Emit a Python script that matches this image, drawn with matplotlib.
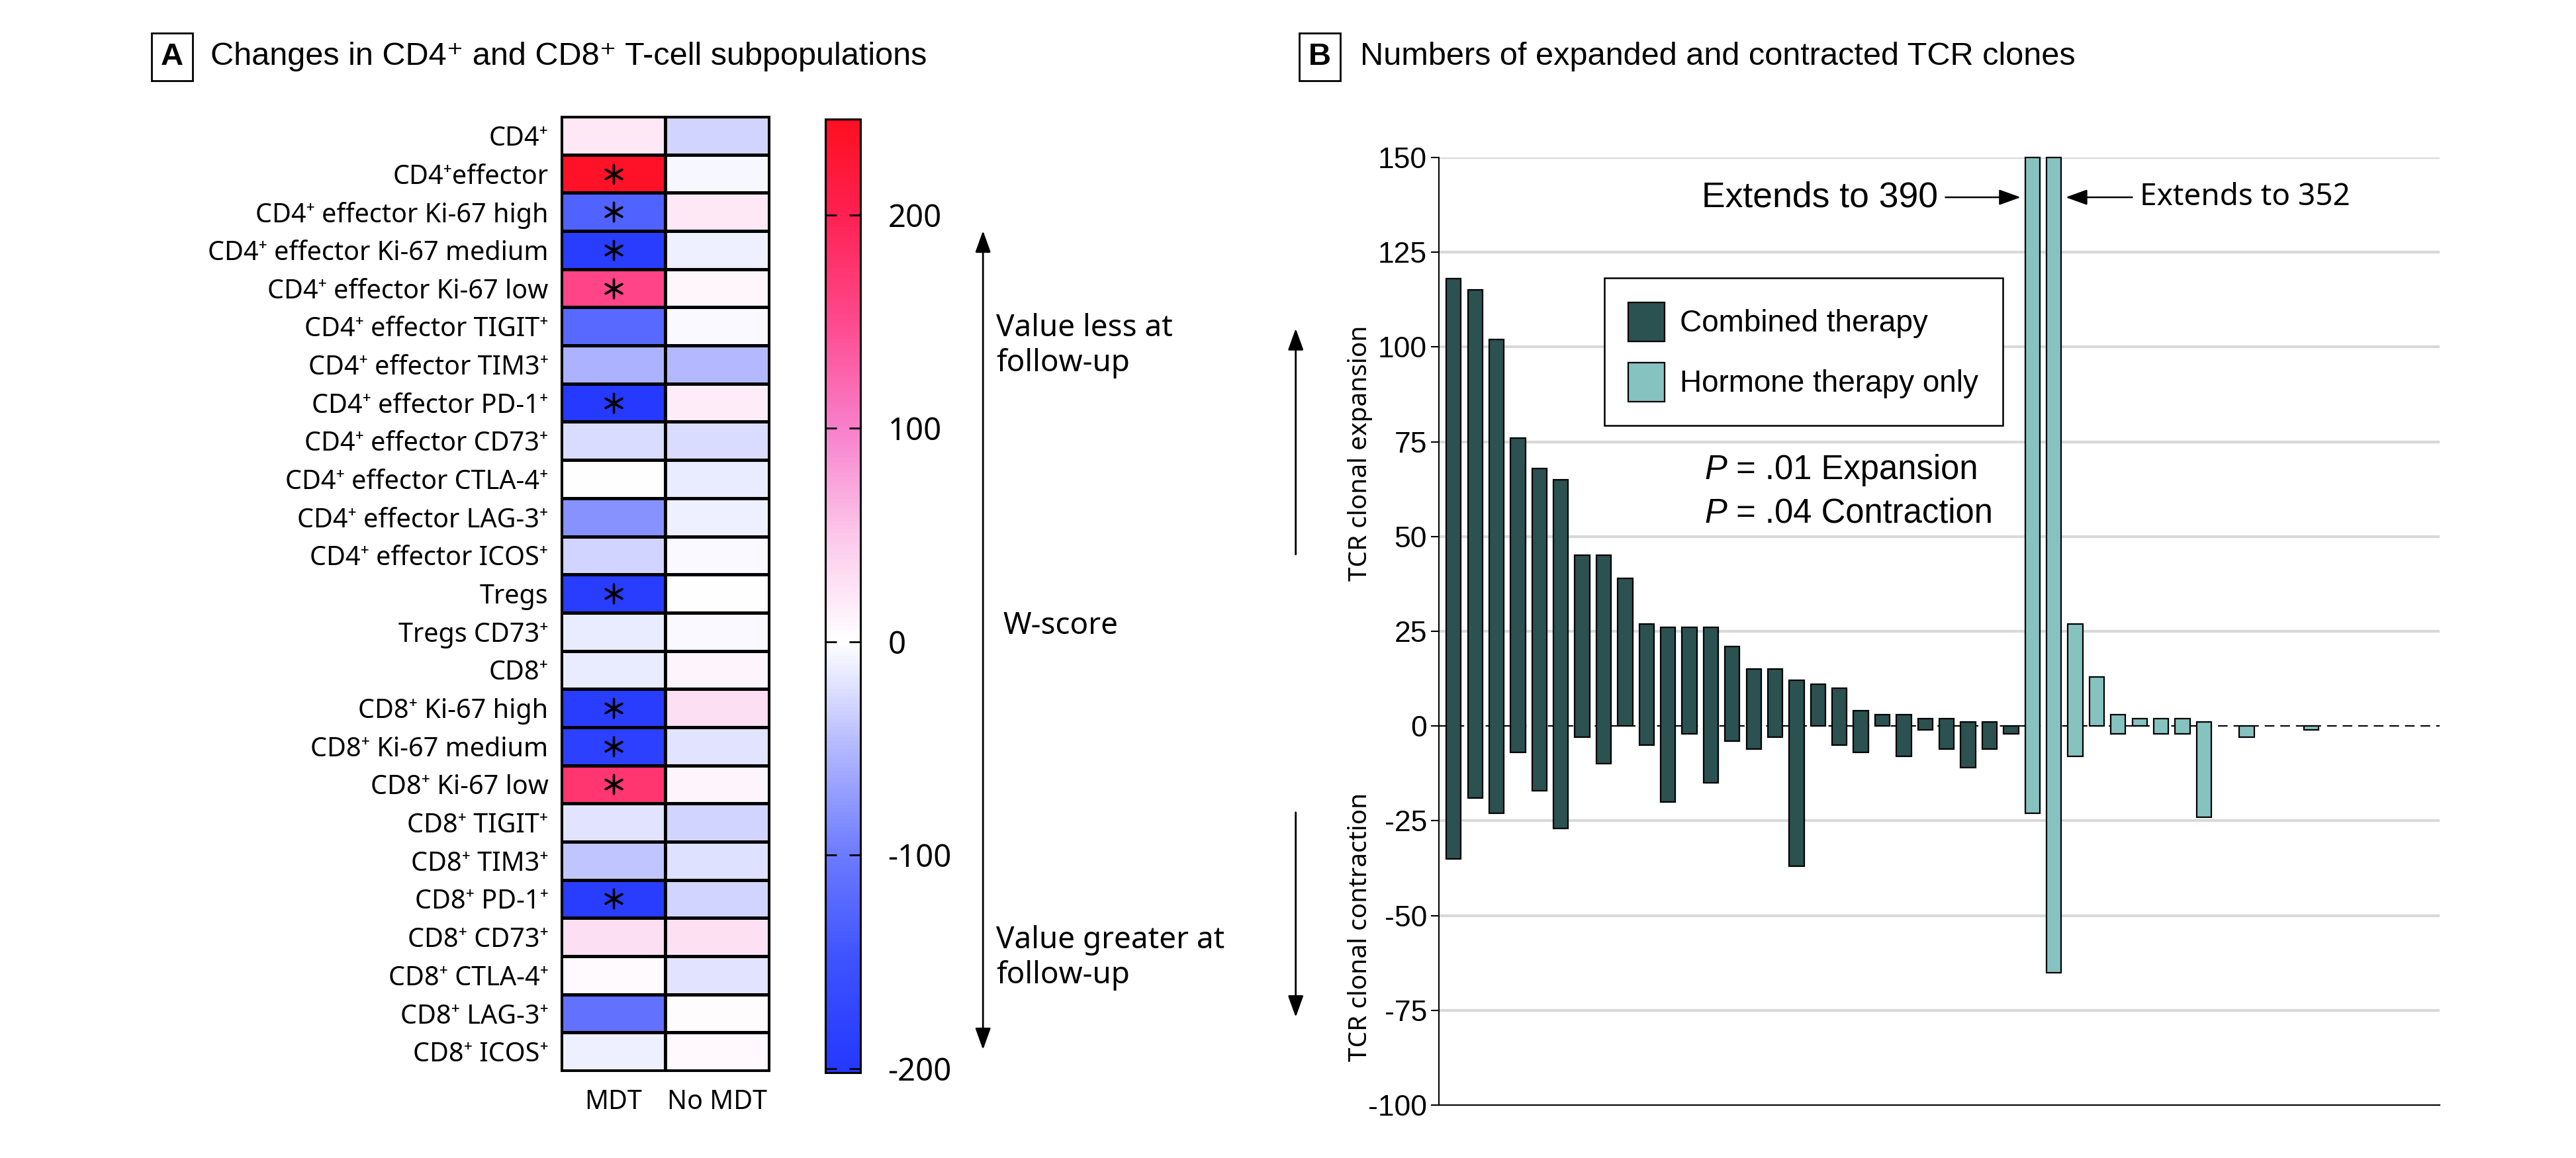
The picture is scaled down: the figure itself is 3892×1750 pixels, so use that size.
import numpy as np
import matplotlib
matplotlib.use("Agg")
import matplotlib.pyplot as plt
from matplotlib.colors import LinearSegmentedColormap, Normalize
from matplotlib.cm import ScalarMappable
from matplotlib.patches import Patch, FancyArrowPatch

plt.rcParams['font.family'] = ['Noto Sans', 'DejaVu Sans']
plt.rcParams['axes.unicode_minus'] = False
NARROW = ['Liberation Sans', 'DejaVu Sans']   # stands in for the condensed face

# ---- panel A: W-scores (MDT / No MDT) ----
subsets = ["CD4⁺", "CD4⁺effector", "CD4⁺ effector Ki-67 high", "CD4⁺ effector Ki-67 medium",
           "CD4⁺ effector Ki-67 low", "CD4⁺ effector TIGIT⁺", "CD4⁺ effector TIM3⁺",
           "CD4⁺ effector PD-1⁺", "CD4⁺ effector CD73⁺", "CD4⁺ effector CTLA-4⁺",
           "CD4⁺ effector LAG-3⁺", "CD4⁺ effector ICOS⁺", "Tregs", "Tregs CD73⁺", "CD8⁺",
           "CD8⁺ Ki-67 high", "CD8⁺ Ki-67 medium", "CD8⁺ Ki-67 low", "CD8⁺ TIGIT⁺",
           "CD8⁺ TIM3⁺", "CD8⁺ PD-1⁺", "CD8⁺ CD73⁺", "CD8⁺ CTLA-4⁺", "CD8⁺ LAG-3⁺", "CD8⁺ ICOS⁺"]
w_mdt = [20, 238, -130, -190, 155, -120, -55, -200, -25, 2, -80, -30, -190,
         -15, -15, -190, -185, 175, -20, -40, -190, 30, 5, -110, -10]
w_no_mdt = [-30, -5, 20, -10, 8, -4, -50, 18, -25, -15, -10, -3, 0,
            -4, 10, 30, -20, 10, -30, -22, -30, 28, -20, 3, 7]
signif_mdt = [0, 1, 1, 1, 1, 0, 0, 1, 0, 0, 0, 0, 1, 0, 0, 1, 1, 1, 0, 0, 1, 0, 0, 0, 0]
groups = ["MDT", "No MDT"]
cbar_ticks = [-200, -100, 0, 100, 200]

# ---- panel B: expanded / contracted clones per patient ----
combined_exp = [118, 115, 102, 76, 68, 65, 45, 45, 39, 27, 26, 26, 26, 21, 15, 15, 12, 11,
                10, 4, 3, 3, 2, 2, 1, 1, 0]
combined_con = [-35, -19, -23, -7, -17, -27, -3, -10, 0, -5, -20, -2, -15, -4, -6, -3, -37, 0,
                -5, -7, 0, -8, -1, -6, -11, -6, -2]
hormone_exp = [390, 352, 27, 13, 3, 2, 2, 2, 1, 0, 0, 0, 0, 0]
hormone_con = [-23, -65, -8, 0, -2, 0, -2, -2, -24, 0, -3, 0, 0, -1]
y_ticks = list(range(-100, 151, 25))

DARK = '#2b5150'
LIGHT = '#86c2bf'

fig = plt.figure(figsize=(38.92, 17.5), dpi=100)

# colour scale (white at 0, blue negative, pink/red positive)
norm = Normalize(vmin=-202, vmax=245)
stops = [(-202, '#2438ff'), (-150, '#3d52ff'), (-100, '#6c7bff'), (-50, '#b3b8ff'),
         (0, '#ffffff'), (50, '#fcc8ea'), (100, '#f880cc'), (150, '#ff4a8e'),
         (200, '#ff2152'), (245, '#ff0f20')]
cmap = LinearSegmentedColormap.from_list(
    'wscore', [((v - norm.vmin) / (norm.vmax - norm.vmin), c) for v, c in stops])

# heatmap
axh = fig.add_axes([0.2179, 0.0754, 0.0807, 0.824])
grid = np.column_stack([w_mdt, w_no_mdt])
axh.pcolormesh(grid, cmap=cmap, norm=norm, edgecolors='black', linewidth=2.2)
axh.set_xlim(0, 2)
axh.set_ylim(len(subsets), 0)
axh.set_yticks(np.arange(len(subsets)) + 0.5, subsets, fontsize=28.5)
axh.set_xticks([0.5, 1.5], groups, fontsize=28.5)
axh.tick_params(length=0)
axh.tick_params(axis='y', pad=14)
axh.tick_params(axis='x', pad=20)
for s in axh.spines.values():
    s.set_linewidth(2.2)
rows = np.array([i for i, s in enumerate(signif_mdt) if s])
axh.scatter(np.full(len(rows), 0.5), rows + 0.5, marker=(6, 2, 0), s=420,
            color='black', linewidths=2.4, zorder=5)

# colour bar
cax = fig.add_axes([0.3204, 0.0737, 0.0136, 0.8234])
cb = fig.colorbar(ScalarMappable(norm=norm, cmap=cmap), cax=cax, ticks=cbar_ticks)
cb.outline.set_linewidth(2.2)
cax.tick_params(direction='in', left=True, right=True, length=12, width=2,
                labelsize=34, pad=30)
cax.set_yticklabels([str(t) for t in cbar_ticks])

fig.add_artist(FancyArrowPatch((0.3816, 0.092), (0.3816, 0.8023), transform=fig.transFigure,
                               arrowstyle='<|-|>,head_length=0.5,head_width=0.18',
                               mutation_scale=40, lw=2, color='black'))
fig.text(0.3867, 0.730, "Value less at\nfollow-up", fontsize=33, va='top', ha='left')
fig.text(0.3895, 0.4594, "W-score", fontsize=33, va='center', ha='left')
fig.text(0.3867, 0.201, "Value greater at\nfollow-up", fontsize=33, va='top', ha='left')

# panel titles
box = dict(boxstyle='square,pad=0.3', fc='white', ec='black', lw=2)
fig.text(0.0668, 0.951, 'A', fontsize=34, fontweight='bold', family=NARROW,
         ha='center', va='center', bbox=box)
fig.text(0.0817, 0.951, 'Changes in CD4⁺ and CD8⁺ T-cell subpopulations', fontsize=35,
         family=NARROW, va='center')
fig.text(0.5123, 0.951, 'B', fontsize=34, fontweight='bold', family=NARROW,
         ha='center', va='center', bbox=box)
fig.text(0.528, 0.951, 'Numbers of expanded and contracted TCR clones', fontsize=35,
         family=NARROW, va='center')

# bar chart
axb = fig.add_axes([0.5586, 0.0457, 0.3885, 0.8183])
ymin, ymax = y_ticks[0], y_ticks[-1]
for t in y_ticks:
    if t not in (0, ymin):
        axb.axhline(t, color='#d9d9d9', lw=3, zorder=0)
axb.axhline(0, color='black', lw=1.5, ls=(0, (7, 4.3)), zorder=1)


def draw_bars(ax, x, exp, con, color):
    exp = np.asarray(exp, float)
    con = np.asarray(con, float)
    top = np.minimum(exp, ymax)
    keep = (top - con) > 0
    ax.bar(x[keep], (top - con)[keep], bottom=con[keep], width=0.69, color=color,
           edgecolor='black', linewidth=1.6, zorder=3, clip_on=False)


x_comb = np.arange(len(combined_exp))
x_horm = np.arange(len(hormone_exp)) + len(combined_exp)
draw_bars(axb, x_comb, combined_exp, combined_con, DARK)
draw_bars(axb, x_horm, hormone_exp, hormone_con, LIGHT)

axb.set_xlim(-0.686, 46)
axb.set_ylim(ymin, ymax)
axb.set_xticks([])
axb.set_yticks(y_ticks)
axb.set_yticklabels([str(t) for t in y_ticks], fontsize=32, family=NARROW)
axb.tick_params(axis='y', length=9, width=1.5, pad=4)
axb.spines[['top', 'right']].set_visible(False)
axb.spines['left'].set_linewidth(1.5)
axb.spines['bottom'].set_linewidth(1.5)

arrow_kw = dict(arrowstyle='-|>,head_length=0.5,head_width=0.18', mutation_scale=40,
                lw=1.8, color='black', shrinkA=6, shrinkB=0)
axb.annotate('Extends to 390', xy=(26.45, 139.5), xytext=(22.6, 139.5), ha='right',
             va='center', fontsize=38.5, family=NARROW, arrowprops=arrow_kw)
axb.annotate('Extends to 352', xy=(28.55, 139.5), xytext=(32.0, 139.5), ha='left',
             va='center', fontsize=33, arrowprops=arrow_kw)

leg = axb.legend(handles=[Patch(fc=DARK, ec='black', lw=1.6, label='Combined therapy'),
                          Patch(fc=LIGHT, ec='black', lw=1.6, label='Hormone therapy only')],
                 loc='upper left', bbox_to_anchor=(0.165, 0.8728), borderaxespad=0,
                 prop={'family': NARROW, 'size': 33}, fancybox=False, framealpha=1,
                 edgecolor='black', handlelength=1.2, handleheight=1.6,
                 labelspacing=0.7, borderpad=0.8, handletextpad=0.5)
leg.get_frame().set_linewidth(1.8)

for y, txt in [(67.5, ' = .01 Expansion'), (56, ' = .04 Contraction')]:
    p = axb.text(11.7, y, 'P', style='italic', fontsize=36.5, family=NARROW, va='center')
    axb.annotate(txt, xy=(1, 0), xycoords=p, va='bottom', fontsize=36.5, family=NARROW)

# side labels with arrows
fig.text(0.528, 0.6086, 'TCR clonal expansion', rotation=90, fontsize=28,
         ha='center', va='center')
fig.text(0.528, 0.1994, 'TCR clonal contraction', rotation=90, fontsize=28,
         ha='center', va='center')
for a, b in [((0.503, 0.5197), (0.503, 0.7179)), ((0.503, 0.300), (0.503, 0.120))]:
    fig.add_artist(FancyArrowPatch(a, b, transform=fig.transFigure,
                                   arrowstyle='-|>,head_length=0.5,head_width=0.18',
                                   mutation_scale=40, lw=2, color='black'))

fig.savefig('out.png', dpi=100)
